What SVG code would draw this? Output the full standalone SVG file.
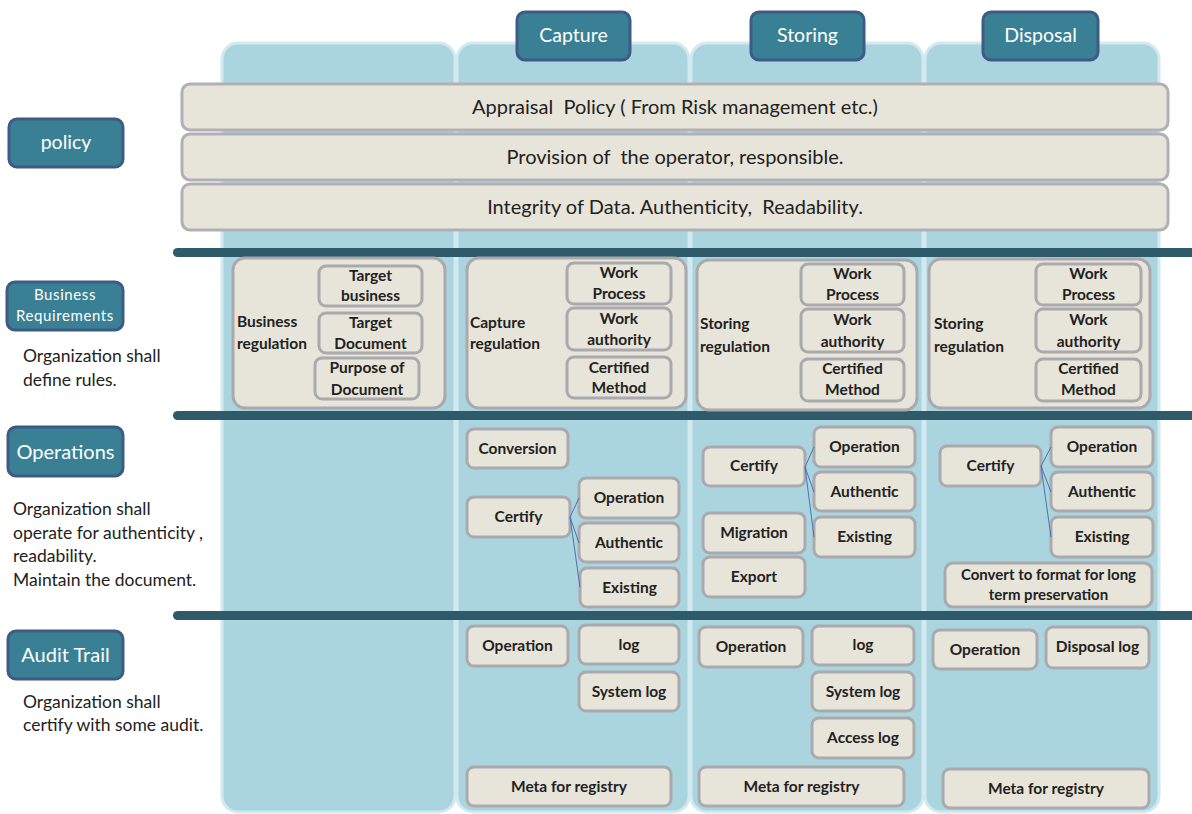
<svg xmlns="http://www.w3.org/2000/svg" width="1192" height="814" viewBox="0 0 1192 814">
<style>
text{font-family:Lato,"Open Sans","Liberation Sans",sans-serif;fill:#222}
.col{fill:#aad4de;stroke:#d2e9ef;stroke-width:3}
.hdr{fill:#3a8095;stroke:#3d5b84;stroke-width:3}
.hdr-t{fill:#fff;font-size:19.5px;text-anchor:middle}
.bar{fill:#e7e4d9;stroke:#b1b1b5;stroke-width:3}
.bar-t{font-size:20px;text-anchor:middle}
.sep{fill:#2f5a69}
.box{fill:#e7e4d9;stroke:#a9a9ae;stroke-width:3}
.bt{font-size:15.5px;font-weight:bold;text-anchor:middle}
.bl{font-size:15.5px;font-weight:bold}
.desc{font-size:17.5px}
.conn{stroke:#4a74b6;stroke-width:1;fill:none}
</style>

<g id="columns">
<rect class="col" x="222" y="43" width="233" height="769" rx="16"/>
<rect class="col" x="457" y="43" width="232" height="769" rx="16"/>
<rect class="col" x="691" y="43" width="232" height="769" rx="16"/>
<rect class="col" x="925" y="43" width="234" height="769" rx="16"/>
</g>

<g id="hdr-capture"><rect class="hdr" x="517" y="12" width="113" height="48" rx="8"/><text class="hdr-t" x="573.5" y="42">Capture</text></g>
<g id="hdr-storing"><rect class="hdr" x="751" y="12" width="113" height="48" rx="8"/><text class="hdr-t" x="807.5" y="42">Storing</text></g>
<g id="hdr-disposal"><rect class="hdr" x="983" y="12" width="115" height="48" rx="8"/><text class="hdr-t" x="1040.5" y="42">Disposal</text></g>

<g id="bar-appraisal"><rect class="bar" x="182" y="84" width="986" height="46" rx="8"/><text class="bar-t" x="675" y="114" xml:space="preserve">Appraisal  Policy ( From Risk management etc.)</text></g>
<g id="bar-provision"><rect class="bar" x="182" y="134" width="986" height="46" rx="8"/><text class="bar-t" x="675" y="164" xml:space="preserve">Provision of  the operator, responsible.</text></g>
<g id="bar-integrity"><rect class="bar" x="182" y="184" width="986" height="46" rx="8"/><text class="bar-t" x="675" y="214" xml:space="preserve">Integrity of Data. Authenticity,  Readability.</text></g>

<g id="separators">
<rect class="sep" x="173" y="248" width="1040" height="9" rx="4.5"/>
<rect class="sep" x="173" y="411" width="1040" height="9" rx="4.5"/>
<rect class="sep" x="173" y="611" width="1040" height="9" rx="4.5"/>
</g>

<g id="lbl-policy"><rect class="hdr" x="9" y="119" width="114" height="48" rx="8"/><text class="hdr-t" x="66" y="149">policy</text></g>
<g id="lbl-business"><rect class="hdr" x="7" y="282" width="116" height="48" rx="8"/><text class="hdr-t" style="font-size:15px;letter-spacing:0.6px" x="65" y="300">Business</text><text class="hdr-t" style="font-size:15px;letter-spacing:0.6px" x="65" y="321">Requirements</text></g>
<g id="desc-business"><text class="desc" x="23" y="362">Organization shall</text><text class="desc" x="23" y="386">define rules.</text></g>
<g id="lbl-operations"><rect class="hdr" x="8" y="427" width="115" height="49" rx="8"/><text class="hdr-t" style="font-size:20px" x="65.5" y="459">Operations</text></g>
<g id="desc-operations"><text class="desc" x="13" y="515">Organization shall</text><text class="desc" x="13" y="539">operate for authenticity ,</text><text class="desc" x="13" y="562">readability.</text><text class="desc" x="13" y="586">Maintain the document.</text></g>
<g id="lbl-audit"><rect class="hdr" x="8" y="631" width="115" height="48" rx="8"/><text class="hdr-t" style="font-size:20px" x="65.5" y="662">Audit Trail</text></g>
<g id="desc-audit"><text class="desc" x="23" y="708">Organization shall</text><text class="desc" x="23" y="731">certify with some audit.</text></g>

<!-- Business requirements -->
<g id="br-col1">
<rect class="box" x="233" y="258" width="212" height="150" rx="12"/>
<text class="bl" x="237" y="327">Business</text><text class="bl" x="237" y="349">regulation</text>
<rect class="box" x="319" y="266" width="103" height="40" rx="7"/><text class="bt" x="370.5" y="281">Target</text><text class="bt" x="370.5" y="301">business</text>
<rect class="box" x="319" y="313" width="103" height="40" rx="7"/><text class="bt" x="370.5" y="328">Target</text><text class="bt" x="370.5" y="349">Document</text>
<rect class="box" x="315" y="358" width="104" height="41" rx="7"/><text class="bt" x="367" y="373">Purpose of</text><text class="bt" x="367" y="395">Document</text>
</g>
<g id="br-col2">
<rect class="box" x="467" y="258" width="219" height="150" rx="12"/>
<text class="bl" x="470" y="328">Capture</text><text class="bl" x="470" y="349">regulation</text>
<rect class="box" x="567" y="263" width="104" height="41" rx="7"/><text class="bt" x="619" y="278">Work</text><text class="bt" x="619" y="299">Process</text>
<rect class="box" x="567" y="308" width="104" height="42" rx="7"/><text class="bt" x="619" y="324">Work</text><text class="bt" x="619" y="345">authority</text>
<rect class="box" x="567" y="357" width="104" height="41" rx="7"/><text class="bt" x="619" y="373">Certified</text><text class="bt" x="619" y="393">Method</text>
</g>
<g id="br-col3">
<rect class="box" x="697" y="260" width="220" height="150" rx="12"/>
<text class="bl" x="700" y="329">Storing</text><text class="bl" x="700" y="352">regulation</text>
<rect class="box" x="801" y="264" width="103" height="41" rx="7"/><text class="bt" x="852.5" y="279">Work</text><text class="bt" x="852.5" y="300">Process</text>
<rect class="box" x="801" y="309" width="103" height="43" rx="7"/><text class="bt" x="852.5" y="325">Work</text><text class="bt" x="852.5" y="347">authority</text>
<rect class="box" x="801" y="359" width="103" height="42" rx="7"/><text class="bt" x="852.5" y="374">Certified</text><text class="bt" x="852.5" y="395">Method</text>
</g>
<g id="br-col4">
<rect class="box" x="929" y="259" width="221" height="149" rx="12"/>
<text class="bl" x="934" y="329">Storing</text><text class="bl" x="934" y="352">regulation</text>
<rect class="box" x="1036" y="264" width="105" height="41" rx="7"/><text class="bt" x="1088.5" y="279">Work</text><text class="bt" x="1088.5" y="300">Process</text>
<rect class="box" x="1036" y="309" width="105" height="43" rx="7"/><text class="bt" x="1088.5" y="325">Work</text><text class="bt" x="1088.5" y="347">authority</text>
<rect class="box" x="1036" y="359" width="105" height="42" rx="7"/><text class="bt" x="1088.5" y="374">Certified</text><text class="bt" x="1088.5" y="395">Method</text>
</g>

<!-- Operations -->
<g id="op-conversion"><rect class="box" x="467" y="429" width="101" height="39" rx="7"/><text class="bt" x="517.5" y="454">Conversion</text></g>
<g id="op-certify2"><rect class="box" x="467" y="497" width="103" height="40" rx="7"/><text class="bt" x="518.5" y="522">Certify</text></g>
<g id="op-operation2"><rect class="box" x="579" y="478" width="100" height="40" rx="7"/><text class="bt" x="629" y="503">Operation</text></g>
<g id="op-authentic2"><rect class="box" x="579" y="523" width="100" height="39" rx="7"/><text class="bt" x="629" y="548">Authentic</text></g>
<g id="op-existing2"><rect class="box" x="580" y="568" width="99" height="39" rx="7"/><text class="bt" x="629.5" y="593">Existing</text></g>

<g id="op-certify3"><rect class="box" x="703" y="447" width="102" height="39" rx="7"/><text class="bt" x="754" y="471">Certify</text></g>
<g id="op-operation3"><rect class="box" x="814" y="427" width="101" height="40" rx="7"/><text class="bt" x="864.5" y="452">Operation</text></g>
<g id="op-authentic3"><rect class="box" x="814" y="472" width="101" height="39" rx="7"/><text class="bt" x="864.5" y="497">Authentic</text></g>
<g id="op-existing3"><rect class="box" x="814" y="517" width="101" height="40" rx="7"/><text class="bt" x="864.5" y="542">Existing</text></g>
<g id="op-migration"><rect class="box" x="703" y="513" width="102" height="40" rx="7"/><text class="bt" x="754" y="538">Migration</text></g>
<g id="op-export"><rect class="box" x="703" y="557" width="102" height="40" rx="7"/><text class="bt" x="754" y="582">Export</text></g>

<g id="op-certify4"><rect class="box" x="940" y="446" width="101" height="40" rx="7"/><text class="bt" x="990.5" y="471">Certify</text></g>
<g id="op-operation4"><rect class="box" x="1051" y="427" width="102" height="40" rx="7"/><text class="bt" x="1102" y="452">Operation</text></g>
<g id="op-authentic4"><rect class="box" x="1051" y="472" width="102" height="39" rx="7"/><text class="bt" x="1102" y="497">Authentic</text></g>
<g id="op-existing4"><rect class="box" x="1051" y="517" width="102" height="40" rx="7"/><text class="bt" x="1102" y="542">Existing</text></g>
<g id="op-convert"><rect class="box" x="945" y="563" width="207" height="44" rx="8"/><text class="bt" style="font-size:15px" x="1048.5" y="580">Convert to format for long</text><text class="bt" style="font-size:15px" x="1048.5" y="600">term preservation</text></g>

<g id="connectors">
<path class="conn" d="M570 517 L579 498 M570 517 L579 543 M570 517 L580 587"/>
<path class="conn" d="M805 467 L814 447 M805 467 L814 492 M805 467 L814 537"/>
<path class="conn" d="M1041 466 L1051 447 M1041 466 L1051 492 M1041 466 L1051 537"/>
</g>

<!-- Audit trail -->
<g id="au-operation2"><rect class="box" x="467" y="626" width="101" height="40" rx="7"/><text class="bt" x="517.5" y="651">Operation</text></g>
<g id="au-log2"><rect class="box" x="579" y="625" width="100" height="39" rx="7"/><text class="bt" x="629" y="650">log</text></g>
<g id="au-syslog2"><rect class="box" x="579" y="672" width="100" height="39" rx="7"/><text class="bt" x="629" y="697">System log</text></g>
<g id="au-meta2"><rect class="box" x="467" y="767" width="204" height="39" rx="7"/><text class="bt" x="569" y="792">Meta for registry</text></g>

<g id="au-operation3"><rect class="box" x="699" y="627" width="104" height="40" rx="7"/><text class="bt" x="751" y="652">Operation</text></g>
<g id="au-log3"><rect class="box" x="812" y="626" width="102" height="39" rx="7"/><text class="bt" x="863" y="650">log</text></g>
<g id="au-syslog3"><rect class="box" x="812" y="672" width="102" height="39" rx="7"/><text class="bt" x="863" y="697">System log</text></g>
<g id="au-access3"><rect class="box" x="812" y="718" width="102" height="40" rx="7"/><text class="bt" x="863" y="743">Access log</text></g>
<g id="au-meta3"><rect class="box" x="699" y="767" width="205" height="39" rx="7"/><text class="bt" x="801.5" y="792">Meta for registry</text></g>

<g id="au-operation4"><rect class="box" x="933" y="630" width="104" height="39" rx="7"/><text class="bt" x="985" y="655">Operation</text></g>
<g id="au-disposal4"><rect class="box" x="1046" y="627" width="103" height="41" rx="7"/><text class="bt" x="1097.5" y="652">Disposal log</text></g>
<g id="au-meta4"><rect class="box" x="943" y="769" width="206" height="39" rx="7"/><text class="bt" x="1046" y="794">Meta for registry</text></g>
</svg>
